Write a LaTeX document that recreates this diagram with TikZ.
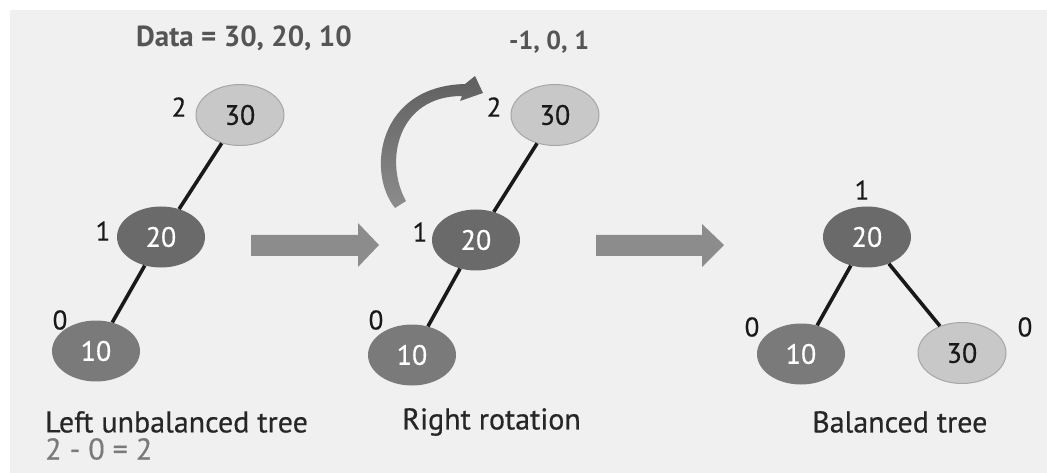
\documentclass[tikz,border=0pt]{standalone}
\usepackage{fontspec}
\setmainfont{PT Sans}
\newfontfamily\medfont[FakeBold=0.5]{PT Sans}
\usetikzlibrary{shapes.geometric}
\definecolor{bg}{HTML}{F0F0F0}
\definecolor{lightnode}{HTML}{C8C8C8}
\definecolor{lightrim}{HTML}{A6A6A6}
\definecolor{darknode}{HTML}{6A6A6A}
\definecolor{midnode}{HTML}{7A7A7A}
\definecolor{arrowgray}{HTML}{8C8C8C}
\definecolor{headgray}{HTML}{555555}
\definecolor{subgray}{HTML}{7A7A7A}
\begin{document}
\begin{tikzpicture}[x=1pt,y=-1pt,
  lightel/.style={ellipse,fill=lightnode,draw=lightrim,line width=1pt,minimum width=88pt,minimum height=61pt,inner sep=0pt,font=\medfont\fontsize{28}{28}\selectfont,text=black!90},
  darkel/.style={ellipse,fill=darknode,draw=none,minimum width=88pt,minimum height=61pt,inner sep=0pt,font=\medfont\fontsize{28}{28}\selectfont,text=white},
  midel/.style={darkel,fill=midnode},
  bf/.style={font=\medfont\fontsize{27}{27}\selectfont,text=black!90,inner sep=0pt},
  edge/.style={line width=3.6pt,black!90},
  caption/.style={font=\medfont\fontsize{30}{30}\selectfont,text=black!85,inner sep=0pt,anchor=west},
  fatarrow/.style={fill=arrowgray,draw=none}]
  % canvas with its white margin
  \useasboundingbox (0,0) rectangle (1047,473);
  \fill[white] (0,0) rectangle (1047,473);
  \fill[bg] (10,10) rectangle (1047,473);

  % headings
  \node[font=\bfseries\fontsize{29}{29}\selectfont,text=headgray,inner sep=0pt,anchor=west] (data) at (136,38) {Data = 30, 20, 10};
  \node[font=\bfseries\fontsize{26}{26}\selectfont,text=headgray,inner sep=0pt,anchor=west] (bal) at (509,42) {-1, 0, 1};

  % left unbalanced tree
  \node[lightel] (a30) at (240,115) {30};
  \node[darkel]  (a20) at (161,237) {20};
  \node[midel]   (a10) at (96,351) {10};
  \node[bf] (la30) at (179,107) {2};
  \node[bf] (la20) at (103,231) {1};
  \node[bf] (la10) at (60,320) {0};
  \draw[edge] (a30) -- (a20);
  \draw[edge] (a20) -- (a10);
  \node[caption] (c1) at (45,422) {Left unbalanced tree};
  \node[caption,text=subgray] (c1b) at (45,449) {2 - 0 = 2};

  % first block arrow
  \fill[fatarrow] (251,235) -- (358,235) -- (358,223) -- (379,245) -- (358,267) -- (358,256) -- (251,256) -- cycle;

  % right rotation
  \node[lightel] (b30) at (555,115) {30};
  \node[darkel]  (b20) at (476,240) {20};
  \node[midel]   (b10) at (412,355) {10};
  \node[bf] (lb30) at (494,107) {2};
  \node[bf] (lb20) at (420,232) {1};
  \node[bf] (lb10) at (376,320) {0};
  \draw[edge] (b30) -- (b20);
  \draw[edge] (b20) -- (b10);
  \node[caption] (c2) at (402,422) {Right rotation};

  % curved rotation arrow, tapering towards its tail
  \shade[top color=darknode!90!black,bottom color=arrowgray]
    (395,208) .. controls (366,172) and (378,86) .. (465,84)
    -- (475,76) -- (483,93) -- (460,101) -- (462,96)
    .. controls (397,96) and (384,162) .. (406,201) -- cycle;

  % second block arrow
  \fill[fatarrow] (596,235) -- (702,235) -- (702,224) -- (724,245) -- (702,267) -- (702,256) -- (596,256) -- cycle;

  % balanced tree
  \node[darkel]  (c20) at (867,237) {20};
  \node[midel]   (c10) at (801,354) {10};
  \node[lightel] (c30) at (962,353) {30};
  \node[bf] (lc20) at (862,190) {1};
  \node[bf] (lc10) at (752,327) {0};
  \node[bf] (lc30) at (1025,327) {0};
  \draw[edge] (c20) -- (c10);
  \draw[edge] (c20) -- (c30);
  \node[caption] (c3) at (812,422) {Balanced tree};
\end{tikzpicture}
\end{document}
